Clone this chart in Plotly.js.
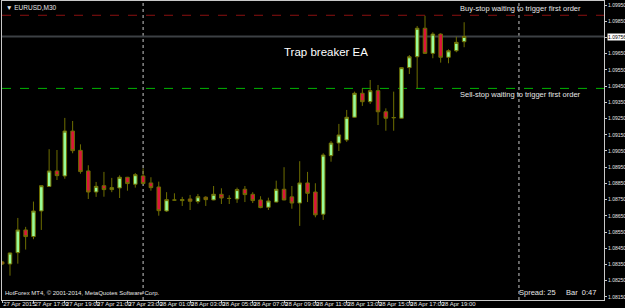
<!DOCTYPE html>
<html>
<head>
<meta charset="utf-8">
<script src="https://cdn.plot.ly/plotly-3.0.1.min.js"></script>
<style>html,body{margin:0;padding:0;background:#000;}#chart{width:625px;height:308px;}</style>
</head>
<body>
<div id="chart"></div>
<script>
// EURUSD M30, bars from 27 Apr 2015 15:00, one bar every 30 minutes
const open  = [1.08366,1.08353,1.08423,1.08563,1.08522,1.08680,1.08831,1.08927,1.08896,1.09173,
               1.09054,1.08927,1.08797,1.08836,1.08812,1.08822,1.08888,1.08845,1.08896,1.08853,
               1.08828,1.08680,1.08748,1.08744,1.08754,1.08738,1.08765,1.08748,1.08783,1.08758,
               1.08754,1.08814,1.08783,1.08748,1.08703,1.08735,1.08814,1.08767,1.08729,1.08853,
               1.08797,1.08660,1.09021,1.09099,1.09118,1.09258,1.09406,1.09354,1.09422,1.09292,
               1.09255,1.09252,1.09564,1.09631,1.09807,1.09652,1.09771,1.09628,1.09668,1.09724];
const high  = [1.08372,1.08424,1.08637,1.08582,1.08738,1.08837,1.09061,1.09056,1.09254,1.09235,
               1.09091,1.08962,1.08859,1.08921,1.08884,1.08900,1.08890,1.08914,1.08943,1.08888,
               1.08861,1.08796,1.08789,1.08767,1.08779,1.08785,1.08771,1.08834,1.08820,1.08777,
               1.08824,1.08834,1.08796,1.08771,1.08762,1.08867,1.08950,1.08834,1.08987,1.08921,
               1.08851,1.09036,1.09112,1.09217,1.09303,1.09416,1.09437,1.09488,1.09457,1.09313,
               1.09416,1.09566,1.09642,1.09821,1.09884,1.09782,1.09776,1.09677,1.09755,1.09844];
const low   = [1.08347,1.08281,1.08355,1.08442,1.08506,1.08563,1.08828,1.08871,1.08879,1.09036,
               1.08910,1.08754,1.08767,1.08768,1.08796,1.08760,1.08805,1.08824,1.08847,1.08805,
               1.08651,1.08674,1.08744,1.08711,1.08686,1.08725,1.08711,1.08746,1.08723,1.08723,
               1.08730,1.08735,1.08729,1.08697,1.08686,1.08733,1.08746,1.08694,1.08588,1.08735,
               1.08641,1.08625,1.08984,1.09050,1.09106,1.09254,1.09328,1.09340,1.09210,1.09175,
               1.09175,1.09250,1.09525,1.09437,1.09648,1.09622,1.09595,1.09591,1.09659,1.09690];
const close = [1.08353,1.08421,1.08563,1.08522,1.08680,1.08836,1.08927,1.08898,1.09173,1.09052,
               1.08923,1.08797,1.08832,1.08812,1.08824,1.08888,1.08849,1.08904,1.08849,1.08824,
               1.08682,1.08750,1.08747,1.08750,1.08740,1.08768,1.08750,1.08783,1.08760,1.08757,
               1.08812,1.08781,1.08744,1.08701,1.08742,1.08814,1.08748,1.08729,1.08853,1.08789,
               1.08656,1.09025,1.09099,1.09149,1.09258,1.09406,1.09354,1.09422,1.09292,1.09252,
               1.09256,1.09564,1.09631,1.09807,1.09652,1.09771,1.09628,1.09668,1.09720,1.09756];

// time axis labels (bar index -> label)
const xTickIndex = [0,4,8,12,16,20,24,28,32,36,40,44,48,52,56];
const xTickText  = ["27 Apr 2015","27 Apr 17:00","27 Apr 19:00","27 Apr 21:00","27 Apr 23:00",
                    "28 Apr 01:00","28 Apr 03:00","28 Apr 05:00","28 Apr 07:00","28 Apr 09:00",
                    "28 Apr 11:00","28 Apr 13:00","28 Apr 15:00","28 Apr 17:00","28 Apr 19:00"];
// day separators (bar index of 00:00)
const daySeparators = [18,66];

// price axis labels
const yTickVals = [1.0815,1.0825,1.0835,1.0845,1.0855,1.0865,1.0875,1.0885,1.0895,1.0905,
                   1.0915,1.0925,1.0935,1.0945,1.0955,1.0965,1.0975,1.0985,1.0995];

// levels
const buyStopLevel  = 1.09887;
const sellStopLevel = 1.09436;
const currentPrice  = 1.09756;

// the current-price box hides the tick label it covers
const yTickText = yTickVals.map(v => Math.abs(v - currentPrice) < 0.0003 ? '' : v.toFixed(5));

const x = open.map((_, i) => i);

const trace = {
  type: 'candlestick',
  x: x, open: open, high: high, low: low, close: close,
  increasing: {line: {color: '#6e6e00', width: 1}, fillcolor: '#98fb98'},
  decreasing: {line: {color: '#6e6e00', width: 1}, fillcolor: '#dc143c'},
  whiskerwidth: 0,
  hoverinfo: 'skip'
};

const shapes = [];
daySeparators.forEach(d => shapes.push({
  type: 'line', xref: 'x', yref: 'paper', x0: d, x1: d, y0: 0, y1: 1,
  line: {color: '#c8c8c8', width: 1, dash: 'dot'}, layer: 'below'
}));
shapes.push({type: 'line', xref: 'paper', yref: 'y', x0: 0, x1: 1, y0: buyStopLevel, y1: buyStopLevel,
  line: {color: '#8b1010', width: 1, dash: 'dash'}, layer: 'below'});
shapes.push({type: 'line', xref: 'paper', yref: 'y', x0: 0, x1: 1, y0: sellStopLevel, y1: sellStopLevel,
  line: {color: '#00b400', width: 1, dash: 'dash'}, layer: 'below'});
shapes.push({type: 'line', xref: 'paper', yref: 'y', x0: 0, x1: 1, y0: currentPrice, y1: currentPrice,
  line: {color: '#3c4044', width: 2}, layer: 'below'});

const FONT = 'Liberation Sans, Arial, sans-serif';
const NARROW = 'Liberation Sans Narrow, Arial Narrow, Liberation Sans, sans-serif';
const small = {family: FONT, size: 7.5, color: '#e6e6e6'};

const annotations = [
  {xref: 'paper', yref: 'y', x: 1, y: currentPrice, xanchor: 'left', yanchor: 'middle', xshift: 3,
   text: currentPrice.toFixed(5), showarrow: false, bgcolor: '#ffffff', borderpad: 0,
   font: {family: FONT, size: 5, color: '#000000'}},
  {xref: 'paper', yref: 'paper', x: 0, y: 1, xanchor: 'left', yanchor: 'top', xshift: 2, yshift: -1,
   text: '▼ EURUSD,M30', showarrow: false, font: {family: NARROW, size: 6.5, color: '#e6e6e6'}},
  {xref: 'x', yref: 'y', x: 35.8, y: 1.09660, xanchor: 'left', yanchor: 'middle',
   text: 'Trap breaker EA', showarrow: false,
   font: {family: FONT, size: 11.5, color: '#ffffff'}},
  {xref: 'x', yref: 'y', x: 58.2, y: buyStopLevel, xanchor: 'left', yanchor: 'bottom',
   text: 'Buy-stop waiting to trigger first order', showarrow: false, font: small},
  {xref: 'x', yref: 'y', x: 58.2, y: sellStopLevel, xanchor: 'left', yanchor: 'top',
   text: 'Sell-stop waiting to trigger first order', showarrow: false, font: small},
  {xref: 'paper', yref: 'paper', x: 0, y: 0, xanchor: 'left', yanchor: 'bottom', xshift: 2, yshift: 3,
   borderpad: 0,
   text: 'HotForex MT4, © 2001-2014, MetaQuotes Software Corp.', showarrow: false,
   font: {family: NARROW, size: 6, color: '#e6e6e6'}},
  {xref: 'paper', yref: 'paper', x: 1, y: 0, xanchor: 'right', yanchor: 'bottom', xshift: -47, yshift: 2,
   borderpad: 0, text: 'Spread: 25', showarrow: false, font: {family: NARROW, size: 7.5, color: '#e6e6e6'}},
  {xref: 'paper', yref: 'paper', x: 1, y: 0, xanchor: 'right', yanchor: 'bottom', xshift: -7, yshift: 2,
   borderpad: 0, text: 'Bar &nbsp;0:47', showarrow: false, font: {family: NARROW, size: 7.5, color: '#e6e6e6'}}
];

const layout = {
  width: 625, height: 308,
  paper_bgcolor: '#000000', plot_bgcolor: '#000000',
  margin: {l: 2, r: 21, t: 1, b: 8},
  showlegend: false,
  boxgap: 0.35,
  xaxis: {
    type: 'linear', range: [-0.02, 76.86], showgrid: false, zeroline: false,
    showline: true, mirror: true, linecolor: '#c8c8c8', linewidth: 1,
    tickmode: 'array', tickvals: xTickIndex, ticktext: xTickText, tickangle: 0,
    ticks: 'outside', ticklen: 2, tickcolor: '#c8c8c8',
    ticklabelposition: 'outside right', ticklabelstandoff: -2,
    tickfont: {family: NARROW, size: 6, color: '#e6e6e6'},
    rangeslider: {visible: false}, fixedrange: true
  },
  yaxis: {
    side: 'right', range: [1.08131, 1.09975], showgrid: false, zeroline: false,
    showline: true, mirror: true, linecolor: '#c8c8c8', linewidth: 1,
    tickmode: 'array', tickvals: yTickVals, ticktext: yTickText,
    ticks: 'outside', ticklen: 2, tickcolor: '#c8c8c8',
    tickfont: {family: FONT, size: 5, color: '#e6e6e6'},
    fixedrange: true
  },
  shapes: shapes,
  annotations: annotations
};

Plotly.newPlot('chart', [trace], layout, {staticPlot: true, displayModeBar: false});
</script>
</body>
</html>
